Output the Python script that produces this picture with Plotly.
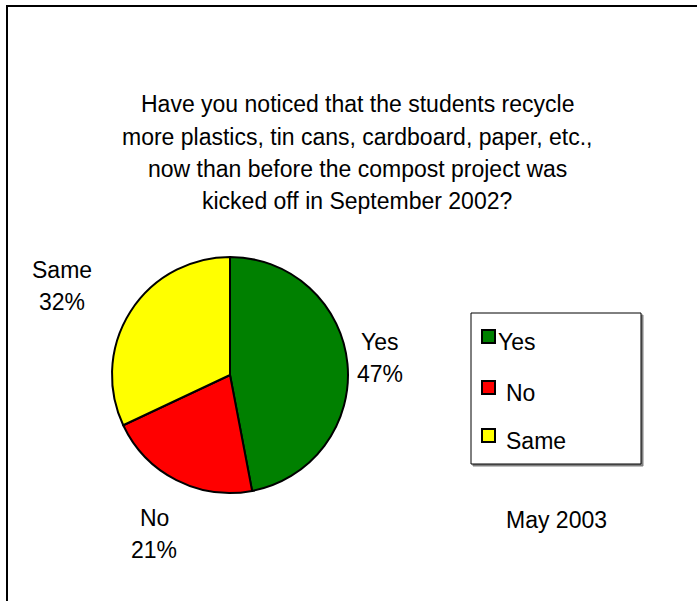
import plotly.graph_objects as go

# Survey answers (May 2003)
labels = ["Yes", "No", "Same"]
percents = [47, 21, 32]
colors = ["#008000", "#FF0000", "#FFFF00"]

title_lines = [
    "Have you noticed that the students recycle",
    "more plastics, tin cans, cardboard, paper, etc.,",
    "now than before the compost project was",
    "kicked off in September 2002?",
]
footnote = "May 2003"

W, H = 697, 601
FONT = "Liberation Sans, Arial, sans-serif"
FS = 23


def px(x):
    return x / W


def py(y):
    return 1 - y / H


# pie geometry (pixels)
cx, cy, r = 230, 375, 118

fig = go.Figure(
    go.Pie(
        labels=labels,
        values=percents,
        marker=dict(colors=colors, line=dict(color="black", width=2)),
        sort=False,
        direction="clockwise",
        rotation=0,
        textinfo="none",
        hoverinfo="label+percent",
        showlegend=False,
        domain=dict(x=[px(cx - r), px(cx + r)], y=[py(cy + r), py(cy - r)]),
    )
)

annotations = []
shapes = []

# outer frame
shapes.append(dict(type="rect", xref="paper", yref="paper",
                   x0=px(7), x1=px(W + 20), y0=py(H + 20), y1=py(6),
                   line=dict(color="black", width=2), fillcolor="rgba(0,0,0,0)"))

# title
title_y = [104, 137, 169, 201]
for line, yy in zip(title_lines, title_y):
    annotations.append(dict(text=line, x=px(357), y=py(yy), xref="paper", yref="paper",
                            xanchor="center", yanchor="middle", showarrow=False,
                            font=dict(family=FONT, size=FS, color="black")))

# slice labels
label_pos = {"Yes": (380, 342), "No": (154, 518), "Same": (62, 270)}
for lab, pct in zip(labels, percents):
    x0, y0 = label_pos[lab]
    annotations.append(dict(text=lab, x=px(x0), y=py(y0), xref="paper", yref="paper",
                            xanchor="center", yanchor="middle", showarrow=False,
                            font=dict(family=FONT, size=FS, color="black")))
    annotations.append(dict(text=f"{pct}%", x=px(x0), y=py(y0 + 32), xref="paper", yref="paper",
                            xanchor="center", yanchor="middle", showarrow=False,
                            font=dict(family=FONT, size=FS, color="black")))

# legend box with shadow
lx0, lx1, ly0, ly1 = 471, 641, 313, 464
shapes.append(dict(type="rect", xref="paper", yref="paper",
                   x0=px(lx0 + 2), x1=px(lx1 + 2), y0=py(ly1 + 2), y1=py(ly0 + 2),
                   line=dict(color="#808080", width=1), fillcolor="#808080"))
shapes.append(dict(type="rect", xref="paper", yref="paper",
                   x0=px(lx0), x1=px(lx1), y0=py(ly1), y1=py(ly0),
                   line=dict(color="black", width=1), fillcolor="white"))

leg_rows = [337, 388, 436]
leg_text_x = [496, 504, 504]
for lab, col, yy, tx in zip(labels, colors, leg_rows, leg_text_x):
    shapes.append(dict(type="rect", xref="paper", yref="paper",
                       x0=px(482), x1=px(495), y0=py(yy + 6), y1=py(yy - 7),
                       line=dict(color="black", width=2), fillcolor=col))
    annotations.append(dict(text=lab, x=px(tx), y=py(yy + 5), xref="paper", yref="paper",
                            xanchor="left", yanchor="middle", showarrow=False,
                            font=dict(family=FONT, size=FS, color="black")))

annotations.append(dict(text=footnote, x=px(556), y=py(520), xref="paper", yref="paper",
                        xanchor="center", yanchor="middle", showarrow=False,
                        font=dict(family=FONT, size=FS, color="black")))

fig.update_layout(
    width=W, height=H,
    margin=dict(l=0, r=0, t=0, b=0),
    paper_bgcolor="white", plot_bgcolor="white",
    annotations=annotations, shapes=shapes,
    showlegend=False,
)

fig.write_html("out.html")
